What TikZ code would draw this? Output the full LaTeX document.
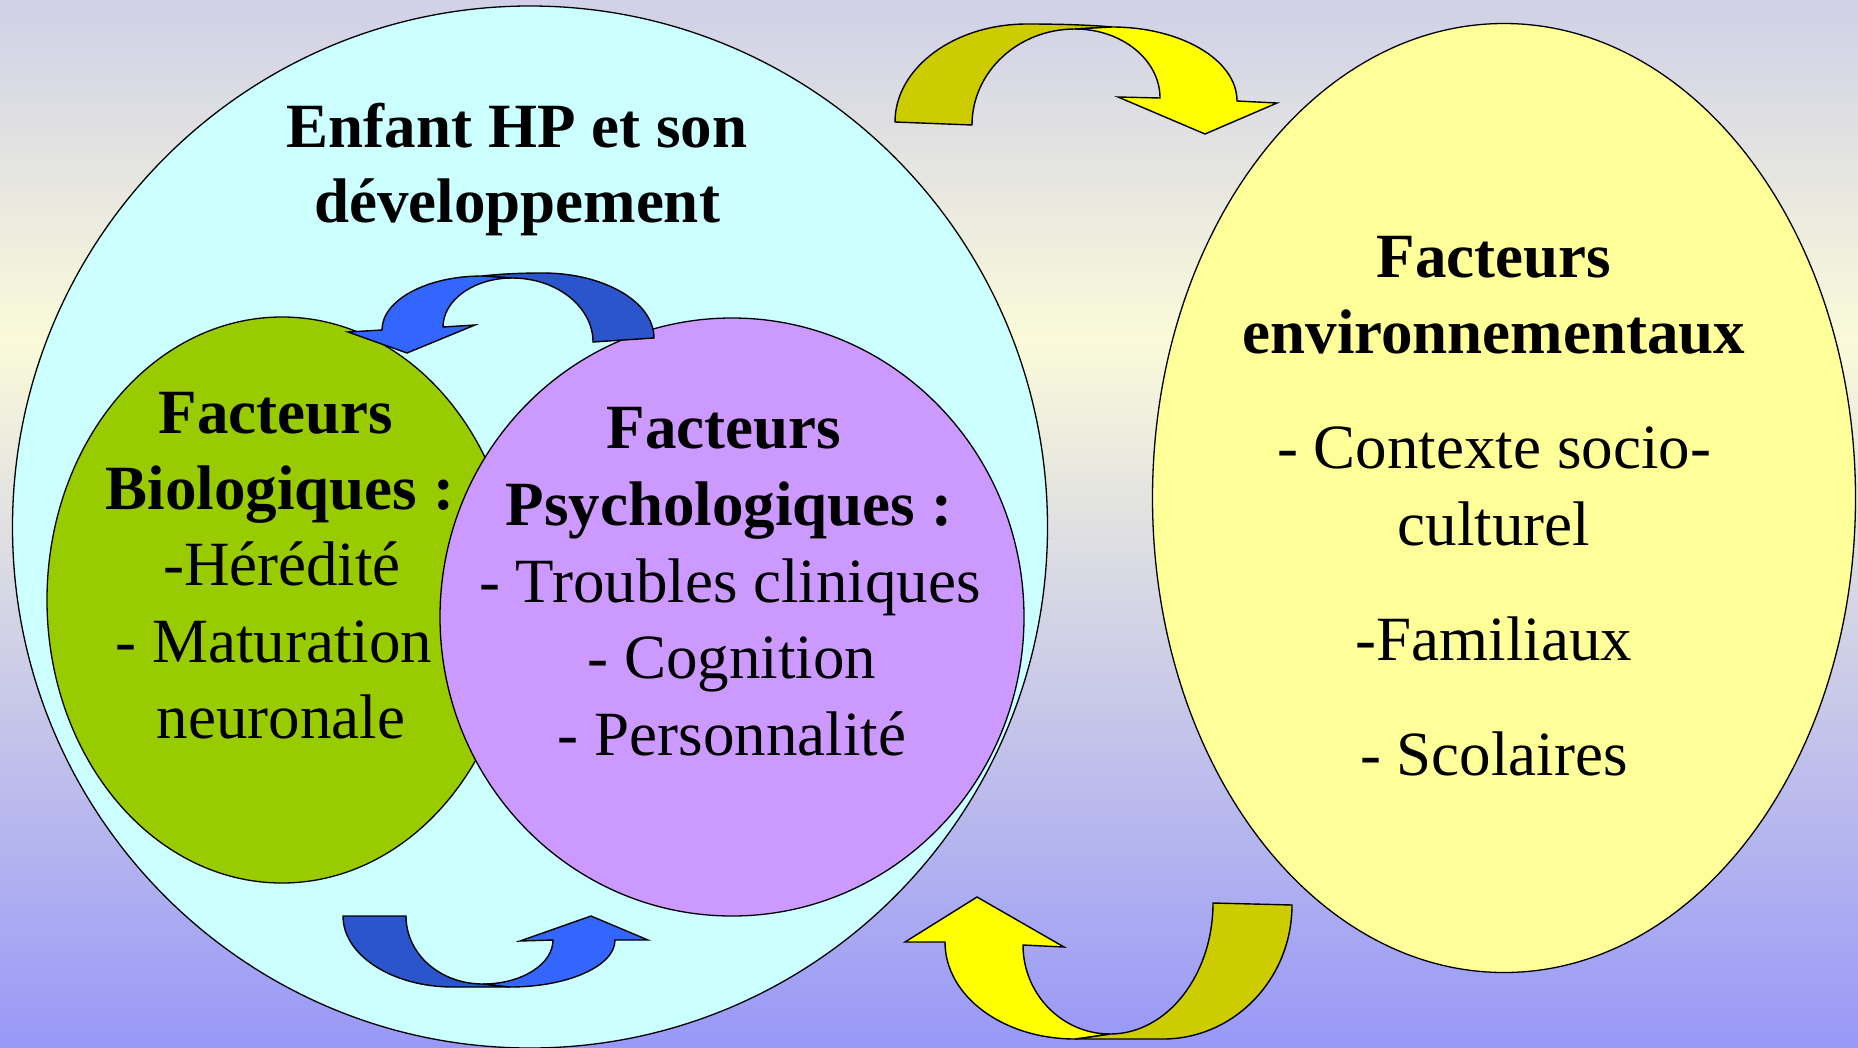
\documentclass[tikz,border=0pt]{standalone}
\usepackage{fontspec}
\setmainfont{Liberation Serif}
\usepackage{tikz}
\usetikzlibrary{shapes.geometric}
\definecolor{bgtop}{HTML}{D0D0E8}
\definecolor{bgcream}{HTML}{FAFADA}
\definecolor{bgbot}{HTML}{9898F8}
\definecolor{cyanfill}{HTML}{CCFFFF}
\definecolor{biofill}{HTML}{99CC00}
\definecolor{psyfill}{HTML}{CC99FF}
\definecolor{envfill}{HTML}{FFFF99}
\definecolor{yellowband}{HTML}{FFFF00}
\definecolor{oliveband}{HTML}{CCCC00}
\definecolor{lightblue}{HTML}{3366FF}
\definecolor{darkblue}{HTML}{2A55CC}

\begin{document}
\begin{tikzpicture}[x=1pt, y=-1pt, line width=1.3pt]
\tikzstyle{every node} = [inner sep=0pt]
\tikzstyle{blob} = [ellipse, draw=black]
\tikzstyle{ribbon} = [draw=black, line width=1.4pt]
\tikzstyle{head} = [anchor=base, font=\fontsize{63}{76}\selectfont\bfseries]
\tikzstyle{item} = [anchor=base, font=\fontsize{63}{76}\selectfont]
\useasboundingbox (0,0) rectangle (1858,1047);
% background
\fill[top color=bgtop, bottom color=bgcream] (0,0) rectangle (1858,340);
\fill[top color=bgcream, bottom color=bgbot] (0,339) rectangle (1858,1047);
% circles
\node[blob, fill=cyanfill, minimum width=1035pt, minimum height=1042pt] (child) at (530,527) {};
\node[blob, fill=biofill, minimum width=470pt, minimum height=566pt] (bio) at (282,600) {};
\node[blob, fill=psyfill, minimum width=584pt, minimum height=598pt] (psy) at (732,617) {};
\node[blob, fill=envfill, minimum width=703pt, minimum height=949pt] (env) at (1504,498) {};
% yellow arrow, top
\filldraw[ribbon, fill=oliveband] (895,122) .. controls (895,68) and (954,24) .. (1027,24)
	.. controls (1060,24) and (1090,25) .. (1112,27) -- (1075,29)
	.. controls (1018,29) and (972,72) .. (972,125) -- cycle;
\filldraw[ribbon, fill=yellowband] (1075,29) -- (1112,27) .. controls (1181,27) and (1237,60) .. (1237,101)
	-- (1277,103) -- (1205,134) -- (1118,97) -- (1160,98)
	.. controls (1160,60) and (1122,29) .. (1075,29) -- cycle;
% yellow arrow, bottom
\filldraw[ribbon, fill=oliveband] (1292,905) .. controls (1292,979) and (1234,1039) .. (1163,1039)
	-- (1075,1039) -- (1110,1034) .. controls (1167,1034) and (1213,975) .. (1213,903) -- cycle;
\filldraw[ribbon, fill=yellowband] (1110,1034) -- (1075,1039) .. controls (1003,1039) and (945,996) .. (945,942)
	-- (905,942) -- (977,897) -- (1064,947) -- (1023,945)
	.. controls (1023,994) and (1062,1034) .. (1110,1034) -- cycle;
% blue arrow, top
\filldraw[ribbon, fill=darkblue] (654,338) .. controls (654,302) and (604,273) .. (543,273)
	.. controls (520,273) and (500,274) .. (482,276) -- (512,278)
	.. controls (557,278) and (593,307) .. (593,342) -- cycle;
\filldraw[ribbon, fill=lightblue] (512,278) -- (482,276) .. controls (427,276) and (382,300) .. (382,330)
	-- (348,332) -- (407,353) -- (475,325) -- (443,327)
	.. controls (443,300) and (474,278) .. (512,278) -- cycle;
% blue arrow, bottom
\filldraw[ribbon, fill=darkblue] (343,916) .. controls (343,955) and (392,987) .. (453,987)
	-- (510,987) -- (483,984) .. controls (440,984) and (406,954) .. (406,916) -- cycle;
\filldraw[ribbon, fill=lightblue] (483,984) -- (510,987) .. controls (568,987) and (615,966) .. (615,940)
	-- (648,940) -- (591,916) -- (520,941) -- (553,940)
	.. controls (553,964) and (522,984) .. (483,984) -- cycle;
% texts
\node[head] (enfant) at (517,147) {Enfant HP et son};
\node[head] (dev) at (517,222) {développement};
\node[head] (biotitle) at (276,433) {Facteurs};
\node[head] (biosub) at (280,509) {Biologiques :};
\node[item] (hered) at (282,585) {-Hérédité};
\node[item] (matur) at (274,662) {- Maturation};
\node[item] (neuro) at (281,738) {neuronale};
\node[head] (psytitle) at (724,448) {Facteurs};
\node[head] (psysub) at (729,525) {Psychologiques :};
\node[item] (troubles) at (730,602) {- Troubles cliniques};
\node[item] (cogn) at (732,678) {- Cognition};
\node[item] (perso) at (732,755) {- Personnalité};
\node[head] (envtitle) at (1494,277) {Facteurs};
\node[head] (envsub) at (1494,353) {environnementaux};
\node[item] (socio) at (1494,468) {- Contexte socio-};
\node[item] (cult) at (1494,545) {culturel};
\node[item] (fam) at (1494,660) {-Familiaux};
\node[item] (scol) at (1494,775) {- Scolaires};
\end{tikzpicture}
\end{document}
